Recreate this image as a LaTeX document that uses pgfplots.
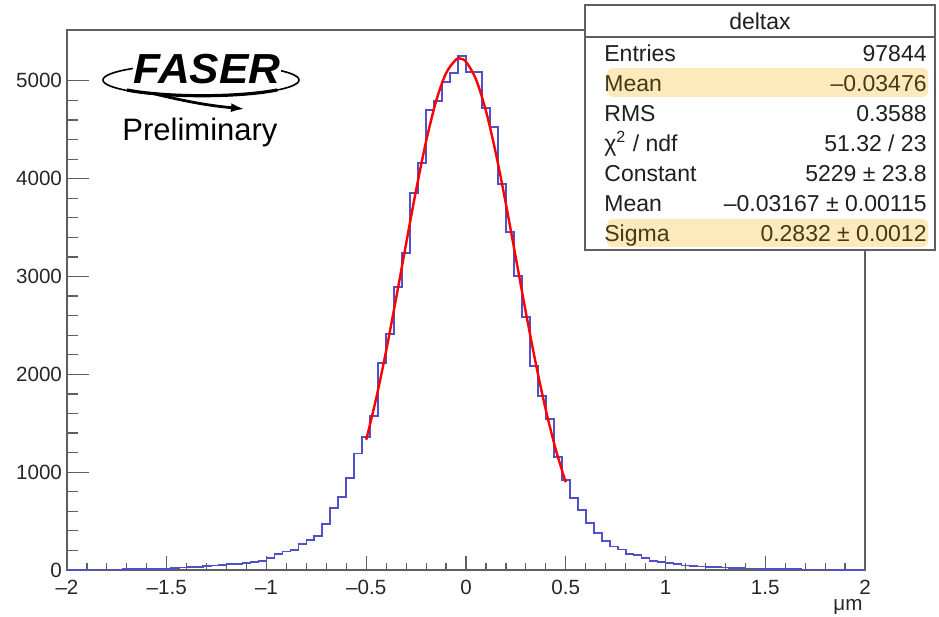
\documentclass[border=0pt]{standalone}
\usepackage{pgfplots}
\pgfplotsset{compat=1.18}
\usetikzlibrary{arrows.meta}
\usepackage{fontspec}
\setmainfont{Liberation Sans}
\definecolor{histblue}{RGB}{80,80,200}
\definecolor{statfill}{RGB}{252,233,188}
\definecolor{framegray}{RGB}{95,95,95}
\definecolor{hltext}{RGB}{70,58,20}
\begin{document}
\begin{tikzpicture}
\path[use as bounding box] (-33.5pt,-23.5pt) rectangle (436pt,285pt);
\begin{axis}[
  scale only axis, width=399pt, height=270pt,
  at={(0,0)}, anchor=south west,
  xmin=-2, xmax=2, ymin=0, ymax=5520,
  axis line style={framegray, line width=0.8pt},
  xtick={-2,-1.5,-1,-0.5,0,0.5,1,1.5,2},
  xticklabels={–2,–1.5,–1,–0.5,0,0.5,1,1.5,2},
  ytick={0,1000,2000,3000,4000,5000},
  yticklabels={0,1000,2000,3000,4000,5000},
  minor x tick num=4, minor y tick num=4,
  tick align=inside, xtick pos=bottom, ytick pos=left,
  tick style={framegray, line width=0.6pt},
  xtick style={/pgfplots/major tick length=7pt, /pgfplots/minor tick length=3.5pt},
  ytick style={/pgfplots/major tick length=11pt, /pgfplots/minor tick length=5.5pt},
  ticklabel style={font=\fontsize{10.3}{11}\selectfont, text=black!85},
  xticklabel style={yshift=-1.5pt},
  yticklabel style={xshift=1pt},
]
\addplot[const plot mark left, histblue, line width=0.9pt] table {
x y
-2.00 3
-1.96 4
-1.92 4
-1.88 5
-1.84 5
-1.80 6
-1.76 6
-1.72 7
-1.68 8
-1.64 9
-1.60 10
-1.56 11
-1.52 13
-1.48 22
-1.44 25
-1.40 30
-1.36 33
-1.32 38
-1.28 45
-1.24 52
-1.20 58
-1.16 62
-1.12 70
-1.08 82
-1.04 90
-1.00 120
-0.96 165
-0.92 190
-0.88 204
-0.84 266
-0.80 305
-0.76 345
-0.72 470
-0.68 634
-0.64 746
-0.60 941
-0.56 1190
-0.52 1360
-0.48 1575
-0.44 2117
-0.40 2410
-0.36 2894
-0.32 3241
-0.28 3855
-0.24 4162
-0.20 4703
-0.16 4795
-0.12 4990
-0.08 5082
-0.04 5256
0.00 5092
0.04 5092
0.08 4724
0.12 4530
0.16 3947
0.20 3456
0.24 3006
0.28 2587
0.32 2086
0.36 1775
0.40 1540
0.44 1155
0.48 920
0.52 740
0.56 613
0.60 481
0.64 378
0.68 297
0.72 240
0.76 210
0.80 160
0.84 150
0.88 123
0.92 90
0.96 78
1.00 70
1.04 60
1.08 45
1.12 42
1.16 35
1.20 30
1.24 28
1.28 25
1.32 20
1.36 18
1.40 16
1.44 15
1.48 12
1.52 10
1.56 9
1.60 8
1.64 7
1.68 6
1.72 6
1.76 5
1.80 5
1.84 4
1.88 4
1.92 3
1.96 3
2.00 3
};
\addplot[red, line width=1.2pt, smooth] coordinates {
(-0.50,1332) (-0.45,1756) (-0.40,2244) (-0.35,2780) (-0.30,3338)
(-0.25,3885) (-0.20,4382) (-0.15,4792) (-0.10,5079) (-0.05,5218)
(-0.03167,5229) (0.00,5196) (0.05,5016) (0.10,4693) (0.15,4256)
(0.20,3742) (0.25,3189) (0.30,2634) (0.35,2109) (0.40,1637)
(0.45,1231) (0.50,897)
};
\end{axis}
% unit label
\node[font=\fontsize{10.3}{11}\selectfont, text=black!85] at (390.5pt,-18.5pt) {μm};
% FASER logo (approximation)
\draw[line width=0.8pt] (67pt,245pt) ellipse (49pt and 8pt);
\draw[line width=1.6pt] (30pt,240pt) arc[start angle=220, end angle=320, x radius=49pt, y radius=8pt];
\node[fill=white, inner sep=0.3pt, font=\fontsize{21}{22}\bfseries\itshape, xscale=1.05] at (70pt,250.5pt) {FASER};
\draw[line width=1.4pt, -{Latex[length=7pt,width=4.5pt]}] (44pt,238pt) to[bend right=4] (89pt,230.5pt);
\node[font=\fontsize{15.5}{17}\selectfont] at (66.5pt,219pt) {Preliminary};
% stats box
\draw[framegray, fill=white, line width=0.8pt] (259pt,160pt) rectangle (434pt,282.5pt);
\draw[framegray, line width=0.8pt] (259pt,266.5pt) -- (434pt,266.5pt);
\fill[statfill, rounded corners=3pt] (270pt,236.5pt) rectangle (430.5pt,251pt);
\fill[statfill, rounded corners=3pt] (270pt,161.5pt) rectangle (430.5pt,175.5pt);
\begin{scope}[every node/.style={font=\fontsize{11.5}{13}\selectfont, inner sep=0pt, text=black!88}]
\node at (346.5pt,274.5pt) {deltax};
\node[anchor=base west] at (268.5pt,254.4pt) {Entries};
\node[anchor=base east] at (430pt,254.4pt) {97844};
\node[anchor=base west, text=hltext] at (268.5pt,239.4pt) {Mean};
\node[anchor=base east, text=hltext] at (430pt,239.4pt) {–0.03476};
\node[anchor=base west] at (268.5pt,224.4pt) {RMS};
\node[anchor=base east] at (430pt,224.4pt) {0.3588};
\node[anchor=base west] at (268.5pt,209.4pt) {χ\textsuperscript{2} / ndf};
\node[anchor=base east] at (430pt,209.4pt) {51.32 / 23};
\node[anchor=base west] at (268.5pt,194.4pt) {Constant};
\node[anchor=base east] at (430pt,194.4pt) {5229 ± 23.8};
\node[anchor=base west] at (268.5pt,179.4pt) {Mean};
\node[anchor=base east] at (430pt,179.4pt) {–0.03167 ± 0.00115};
\node[anchor=base west, text=hltext] at (268.5pt,164.4pt) {Sigma};
\node[anchor=base east, text=hltext] at (430pt,164.4pt) {0.2832 ± 0.0012};
\end{scope}
\end{tikzpicture}
\end{document}
